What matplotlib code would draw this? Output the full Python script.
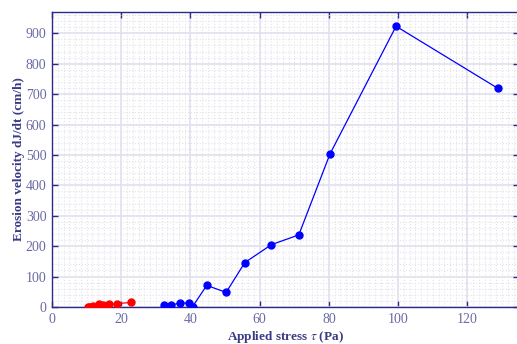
import numpy as np
import matplotlib as mpl
mpl.use('Agg')
import matplotlib.pyplot as plt
from matplotlib.ticker import MultipleLocator, AutoMinorLocator

# applied stress tau (Pa) and erosion velocity dJ/dt (cm/h)
tau_low = [10.4, 10.8, 11.2, 11.8, 12.3, 13.5, 14.7, 16.4, 18.8, 22.9]
rate_low = [0, 1, 0, 2, 1, 10, 7, 9, 11, 15]

tau_high = [32.4, 34.5, 37.1, 39.5, 40.6, 44.7, 50.3, 55.7, 63.4, 71.3, 80.3, 99.4, 128.8]
rate_high = [6, 6, 14, 12, 1, 71, 48, 146, 205, 237, 503, 923, 719]

navy = '#2b2b85'
tickcol = '#6a6aa6'

plt.rcParams['font.family'] = ['Liberation Serif', 'DejaVu Serif']
plt.rcParams['mathtext.fontset'] = 'stix'

fig = plt.figure(figsize=(5.17, 3.44), dpi=100)
# right edge of the box sits just past the figure border
ax = fig.add_axes([0.1006, 0.1076, 0.9025, 0.8576])

ax.plot(tau_low, rate_low, '-o', color='#ff0000', ms=5, lw=0.9, zorder=3)
ax.plot(tau_high, rate_high, '-o', color='#0000ff', ms=5, lw=0.9, zorder=3)

ax.set_xlim(0, 134.8)
ax.set_ylim(0, 970)
ax.xaxis.set_major_locator(MultipleLocator(20))
ax.yaxis.set_major_locator(MultipleLocator(100))
ax.xaxis.set_minor_locator(AutoMinorLocator(12))
ax.yaxis.set_minor_locator(AutoMinorLocator(5))

ax.grid(True, which='major', color='#e0e0ef', lw=1.2)
ax.grid(True, which='minor', color='#e2e2ec', lw=0.8, ls=':')
ax.set_axisbelow(True)

for s in ax.spines.values():
    s.set_color(navy)
    s.set_linewidth(1.0)

ax.tick_params(which='major', direction='in', length=4, width=1.0, color=navy,
               top=True, right=True, labelcolor=tickcol, labelsize=10, pad=4)
ax.tick_params(which='minor', length=0)

ax.set_xlabel(r'Applied stress $\tau$ (Pa)', color='#3a3a85', fontweight='bold',
              fontsize=9.5)
ax.set_ylabel('Erosion velocity dJ/dt (cm/h)', color='#3a3a85', fontweight='bold',
              fontsize=9.5)
ax.xaxis.set_label_coords(0.5, -0.074)
ax.yaxis.set_label_coords(-0.058, 0.5)

fig.savefig('out.png', dpi=100)
